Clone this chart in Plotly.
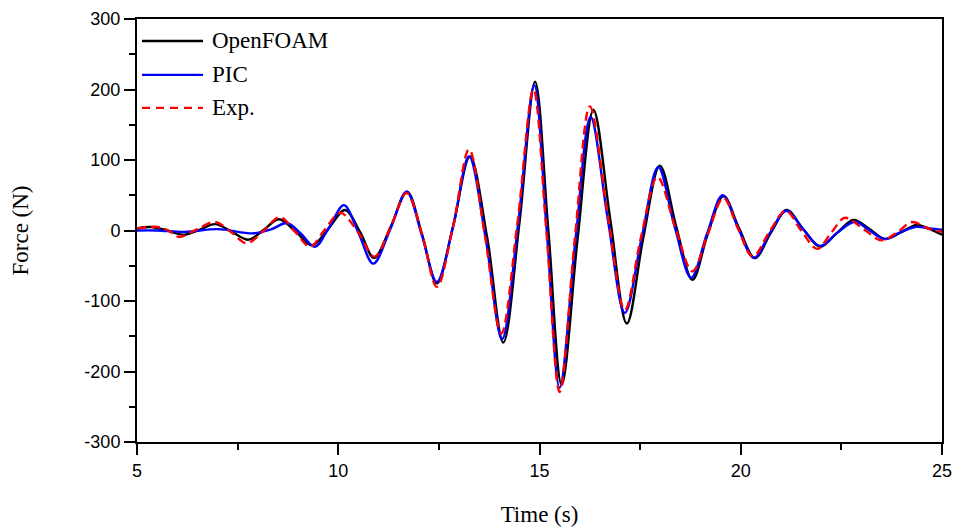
import plotly.graph_objects as go

# OpenFOAM (black): time (s), force (N)
t_openfoam = [5.0, 5.35, 5.75, 6.17, 6.55, 6.94, 7.36, 7.78, 8.15, 8.53, 8.95, 9.35, 9.75, 10.17,
              10.55, 10.89, 11.3, 11.71, 12.08, 12.45, 12.85, 13.27, 13.7, 14.10, 14.5, 14.89,
              15.22, 15.55, 15.95, 16.34, 16.76, 17.17, 17.58, 17.99, 18.4, 18.80, 19.18, 19.57,
              19.96, 20.35, 20.75, 21.14, 21.55, 21.97, 22.4, 22.80, 23.2, 23.58, 24.0, 24.37,
              24.7, 25.0]
f_openfoam = [3, 5, 0, -6, 1, 9, -2, -13, 1, 16, -2, -21, 2, 29,
              -3, -39, 5, 55, -5, -75, 5, 105, -10, -159, 10, 211,
              0, -219, -10, 171, 15, -132, -10, 92, 5, -70, -5, 49,
              3, -39, -3, 29, 2, -23, -3, 15, 2, -12, -2, 8,
              2, -6]

# PIC (blue)
t_pic = [5.0, 5.5, 6.2, 7.0, 7.9, 8.35, 8.73, 9.08, 9.42, 9.78, 10.14, 10.5, 10.87, 11.3, 11.7,
         12.07, 12.45, 12.85, 13.25, 13.66, 14.07, 14.47, 14.87, 15.18, 15.5, 15.9, 16.27, 16.7,
         17.12, 17.54, 17.95, 18.36, 18.77, 19.16, 19.55, 19.94, 20.33, 20.73, 21.13, 21.55,
         21.97, 22.4, 22.84, 23.2, 23.58, 23.95, 24.33, 24.7, 25.0]
f_pic = [0, 0, -2, 2, -4, 2, 10.6, -5, -23, 5, 36, -3, -47, 3, 55,
         -5, -73, 5, 105, -10, -154, 10, 206, 0, -223, -10, 161, 15,
         -117, -10, 90, 5, -67, -5, 50, 3, -39, -3, 28, 2,
         -22, -3, 12.5, 0, -12, -3, 5, 3, 1]

# Exp. (red dashed)
t_exp = [5.0, 5.5, 5.78, 6.04, 6.5, 6.94, 7.35, 7.73, 8.15, 8.55, 8.93, 9.3, 9.65, 10.05, 10.5,
         10.9, 11.3, 11.7, 12.08, 12.45, 12.85, 13.25, 13.65, 14.05, 14.45, 14.85, 15.17, 15.5,
         15.88, 16.25, 16.7, 17.12, 17.52, 17.93, 18.37, 18.8, 19.18, 19.57, 19.93, 20.3, 20.7,
         21.12, 21.5, 21.9, 22.25, 22.59, 23.05, 23.5, 23.9, 24.25, 24.65, 25.0]
f_exp = [3, 5, 0, -9, 2, 12, -3, -18, 0, 19, -2, -23, 0, 25, -3,
         -37, 5, 53, -5, -80, 5, 115, -10, -146, 10, 200, 0, -229,
         -10, 176, 20, -113, -10, 76, 5, -58, -5, 46, 3, -37, -3,
         28, 0, -26, -3, 18, 2, -14, -2, 12, 3, -2]

x_ticks = [5, 10, 15, 20, 25]
y_ticks = [-300, -200, -100, 0, 100, 200, 300]

series_names = ["OpenFOAM", "PIC", "Exp."]
series_colors = ["black", "#0000ff", "#ff0000"]
series_dash = ["solid", "solid", "9px,5px"]
LW = 2.4

fig = go.Figure()
for t, f, name, col, dash in zip([t_openfoam, t_pic, t_exp], [f_openfoam, f_pic, f_exp],
                                 series_names, series_colors, series_dash):
    fig.add_trace(go.Scatter(x=t, y=f, mode="lines", name=name, showlegend=False,
                             line=dict(color=col, width=LW, dash=dash, shape="spline", smoothing=1.0)))

# legend drawn as paper-anchored samples (long line samples like the original)
legend_rows = [0.948, 0.868, 0.790]
serif = "Liberation Serif, Times New Roman, serif"
for yrow, name, col, dash in zip(legend_rows, series_names, series_colors, series_dash):
    fig.add_shape(type="line", xref="paper", yref="paper", x0=0.0062, x1=0.082, y0=yrow, y1=yrow,
                  line=dict(color=col, width=LW, dash="8px,6px" if dash != "solid" else "solid"))
    fig.add_annotation(xref="paper", yref="paper", x=0.0905, y=yrow, xanchor="left", yanchor="middle",
                       text=name, showarrow=False,
                       font=dict(family=serif, size=23, color="black"))

axis_common = dict(showline=True, linecolor="black", linewidth=2, mirror=True,
                   ticks="outside", ticklen=11, tickwidth=2, tickcolor="black",
                   showgrid=False, zeroline=False, automargin=False,
                   tickfont=dict(family="Liberation Sans, Arial, sans-serif", size=18, color="black"))

fig.update_xaxes(range=[5, 25], tickvals=x_ticks, ticktext=[str(v) for v in x_ticks],
                 minor=dict(dtick=2.5, ticks="outside", ticklen=6, tickwidth=2, tickcolor="black"),
                 title=dict(text="Time (s)", standoff=26,
                            font=dict(family=serif, size=23, color="black")),
                 **axis_common)
fig.update_yaxes(range=[-300, 300], tickvals=y_ticks, ticktext=[str(v) for v in y_ticks],
                 minor=dict(dtick=50, ticks="outside", ticklen=6, tickwidth=2, tickcolor="black"),
                 title=dict(text="Force (N)", standoff=49,
                            font=dict(family=serif, size=23, color="black")),
                 **axis_common)

fig.update_layout(
    width=958, height=531,
    margin=dict(l=137, r=16, t=19, b=89),
    plot_bgcolor="white", paper_bgcolor="white",
    showlegend=False,
)

fig.write_html("out.html")
